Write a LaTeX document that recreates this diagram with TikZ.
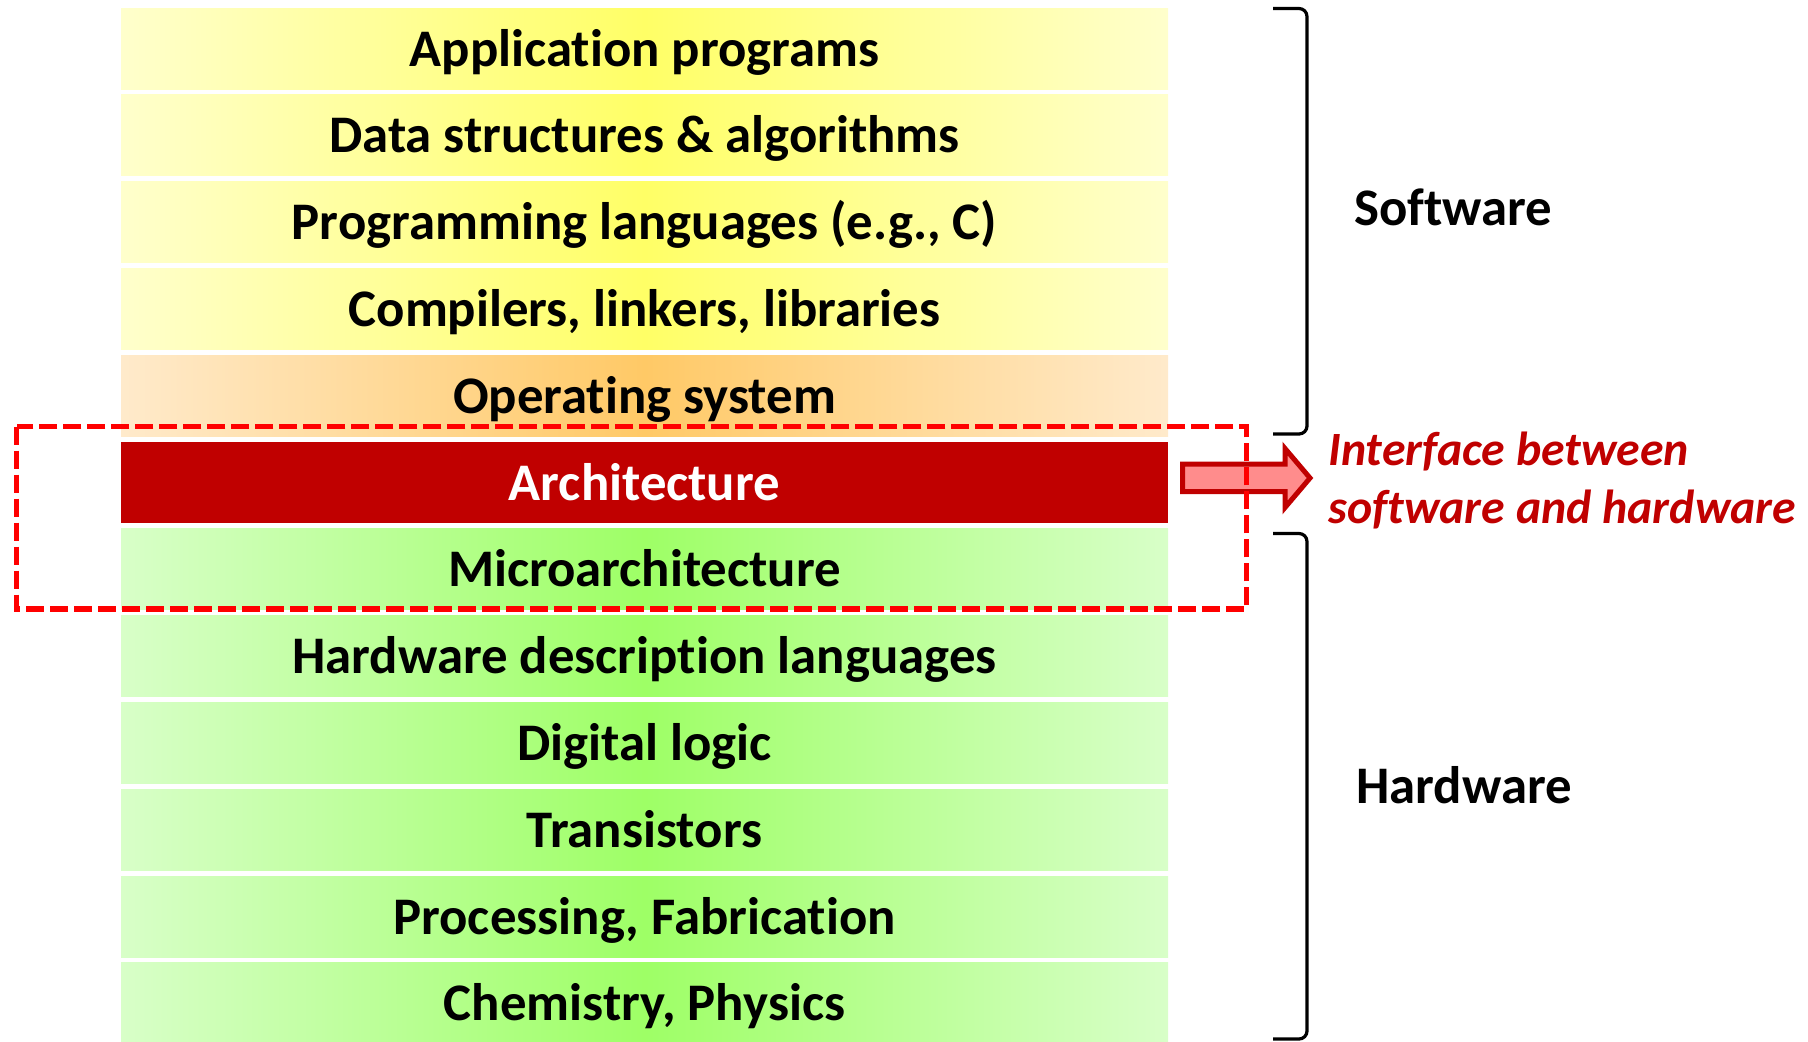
\documentclass[tikz,border=0pt]{standalone}
\usepackage{fontspec}
\setmainfont[Ligatures={NoCommon}]{Carlito}
\definecolor{swedge}{HTML}{FFFFCC}
\definecolor{swmid}{HTML}{FFFF66}
\definecolor{osedge}{HTML}{FFEACB}
\definecolor{osmid}{HTML}{FFC966}
\definecolor{hwedge}{HTML}{D8FFC8}
\definecolor{hwmid}{HTML}{9EFF66}
\definecolor{archred}{HTML}{C00000}
\definecolor{arrowfill}{HTML}{FF8C8C}
\definecolor{dashred}{HTML}{FF0000}
\begin{document}
\begin{tikzpicture}[x=0.5pt,y=-0.5pt,
  layer/.style={rectangle, inner sep=0pt, minimum width=523.5pt, minimum height=40.5pt,
    text height=17.5pt, text depth=0pt, font=\fontsize{26.4pt}{30pt}\selectfont\bfseries},
  swlayer/.style={layer, left color=swedge, right color=swedge, middle color=swmid},
  oslayer/.style={layer, left color=osedge, right color=osedge, middle color=osmid},
  hwlayer/.style={layer, left color=hwedge, right color=hwedge, middle color=hwmid},
  archlayer/.style={layer, fill=archred, text=white},
  bracket/.style={line width=1.6pt, rounded corners=4pt},
  side/.style={anchor=base west, inner sep=0pt, font=\fontsize{26.4pt}{30pt}\selectfont\bfseries},
  dashbox/.style={draw=dashred, line width=2.65pt, dash pattern=on 9pt off 3pt},
  blockarrow/.style={draw=archred, fill=arrowfill, line width=2.5pt, line join=miter},
  note/.style={anchor=base west, inner sep=0pt, align=left, text=archred,
    font=\fontsize{23.9pt}{29pt}\selectfont\bfseries\itshape}
]
\useasboundingbox (0,0) rectangle (1808,1041);

% abstraction layers, top to bottom
\node[swlayer]   (app)  at (644.5, 48.5)  {Application programs};
\node[swlayer]   (dsa)  at (644.5, 135.3) {Data structures \& algorithms};
\node[swlayer]   (lang) at (644.5, 222.1) {Programming languages (e.g., C)};
\node[swlayer]   (comp) at (644.5, 308.9) {Compilers, linkers, libraries};
\node[oslayer]   (os)   at (644.5, 395.7) {Operating system};
\node[archlayer] (arch) at (644.5, 482.5) {Architecture};
\node[hwlayer]   (uarch) at (644.5, 569.3) {Microarchitecture};
\node[hwlayer]   (hdl)  at (644.5, 656.1) {Hardware description languages};
\node[hwlayer]   (dig)  at (644.5, 742.9) {Digital logic};
\node[hwlayer]   (trans) at (644.5, 829.7) {Transistors};
\node[hwlayer]   (fab)  at (644.5, 916.5) {Processing, Fabrication};
\node[hwlayer]   (phys) at (644.5, 1003.3) {Chemistry, Physics};

% software / hardware brackets
\draw[bracket] (1273,8.5) -- (1307,8.5) -- (1307,434) -- (1273,434);
\draw[bracket] (1273,533.5) -- (1307,533.5) -- (1307,1039) -- (1273,1039);
\node[side] (swlabel) at (1354,225) {Software};
\node[side] (hwlabel) at (1356,803.5) {Hardware};

% interface arrow and note
\draw[blockarrow] (1182.5,464) -- (1285,464) -- (1285,448.5) -- (1310,478)
  -- (1285,507.5) -- (1285,491.5) -- (1182.5,491.5) -- cycle;
\node[note] (iface) at (1328,523) {Interface between\\software and hardware};

% highlight around architecture and microarchitecture
\draw[dashbox] (16.7,426.7) rectangle (1246.7,609);
\end{tikzpicture}
\end{document}
